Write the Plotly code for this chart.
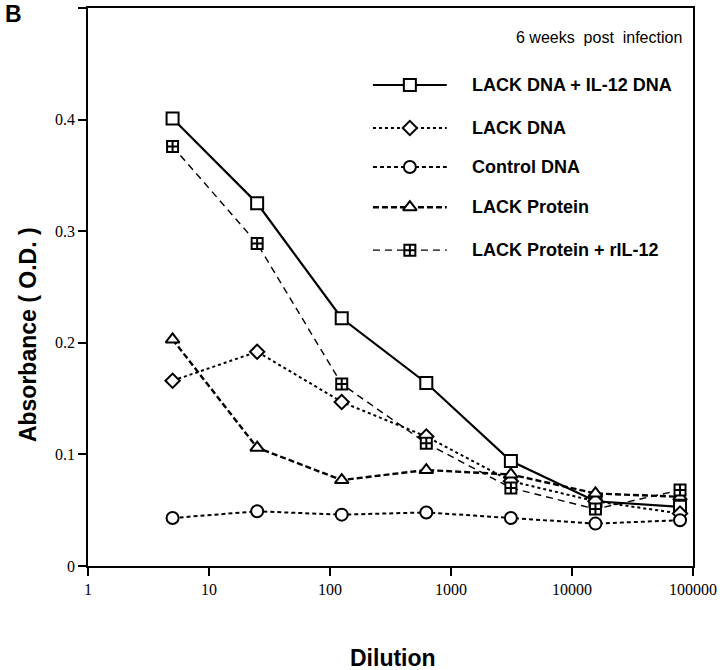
import plotly.graph_objects as go

dilution = [5, 25, 125, 625, 3125, 15625, 78125]
series_names = ["LACK DNA + IL-12 DNA", "LACK DNA", "Control DNA", "LACK Protein", "LACK Protein + rIL-12"]
lack_il12_dna = [0.401, 0.325, 0.222, 0.164, 0.094, 0.058, 0.053]
lack_dna = [0.166, 0.192, 0.147, 0.116, 0.076, 0.058, 0.047]
control_dna = [0.043, 0.049, 0.046, 0.048, 0.043, 0.038, 0.041]
lack_protein = [0.203, 0.106, 0.077, 0.086, 0.082, 0.065, 0.062]
lack_protein_ril12 = [0.376, 0.289, 0.163, 0.110, 0.070, 0.051, 0.068]
x_ticks = [1, 10, 100, 1000, 10000, 100000]
x_ticklabels = ["1", "10", "100", "1000", "10000", "100000"]
y_ticks = [0, 0.1, 0.2, 0.3, 0.4, 0.5]
y_ticklabels = ["0", "0.1", "0.2", "0.3", "0.4", "0.5"]

values = [lack_il12_dna, lack_dna, control_dna, lack_protein, lack_protein_ril12]
styles = [
    dict(dash="solid", width=2.2, symbol="square", size=12),
    dict(dash="dot", width=2, symbol="diamond", size=11),
    dict(dash="4px,3px", width=2, symbol="circle", size=12),
    dict(dash="6px,3px", width=2.4, symbol="triangle-up", size=12),
    dict(dash="7px,5px", width=1.4, symbol="square-cross", size=11),
]

fig = go.Figure()
for name, vals, st in zip(series_names, values, styles):
    fig.add_trace(go.Scatter(
        x=dilution, y=vals, mode="lines+markers", name=name, showlegend=False,
        line=dict(color="black", width=st["width"], dash=st["dash"]),
        marker=dict(symbol=st["symbol"], size=st["size"], color="white",
                    line=dict(color="black", width=2)),
    ))

# custom legend (overlay axes in plot-fraction units)
leg_y = [0.862, 0.785, 0.715, 0.643, 0.566]
for name, st, yy in zip(series_names, styles, leg_y):
    fig.add_trace(go.Scatter(
        x=[0.471, 0.593], y=[yy, yy], mode="lines", showlegend=False,
        xaxis="x2", yaxis="y2", hoverinfo="skip",
        line=dict(color="black", width=st["width"], dash=st["dash"]),
    ))
    fig.add_trace(go.Scatter(
        x=[0.532], y=[yy], mode="markers", showlegend=False,
        xaxis="x2", yaxis="y2", hoverinfo="skip",
        marker=dict(symbol=st["symbol"], size=st["size"], color="white",
                    line=dict(color="black", width=2)),
    ))
    fig.add_annotation(x=0.631, y=yy, xref="paper", yref="paper", text=name,
                       showarrow=False, xanchor="left", yanchor="middle",
                       font=dict(family="Liberation Sans, Arial", size=18, color="black",
                                 weight="bold"))

fig.add_annotation(x=0.985, y=0.948, xref="paper", yref="paper",
                   text="6 weeks&nbsp; post&nbsp; infection", showarrow=False,
                   xanchor="right", yanchor="middle",
                   font=dict(family="Liberation Sans, Arial", size=16, color="black"))

fig.add_annotation(x=-0.14, y=1.016, xref="paper", yref="paper", text="<b>B</b>",
                   showarrow=False, xanchor="left", yanchor="top",
                   font=dict(family="Liberation Sans, Arial", size=23, color="black"))

fig.add_annotation(x=0.504, y=-0.165, xref="paper", yref="paper", text="<b>Dilution</b>",
                   showarrow=False, xanchor="center", yanchor="middle",
                   font=dict(family="Liberation Sans, Arial", size=23, color="black"))

fig.add_annotation(x=-0.099, y=0.414, xref="paper", yref="paper",
                   text="<b>Absorbance ( O.D. )</b>", textangle=-90,
                   showarrow=False, xanchor="center", yanchor="middle",
                   font=dict(family="Liberation Sans, Arial", size=23, color="black"))

fig.update_layout(
    width=720, height=670,
    margin=dict(l=88, r=27, t=8, b=104),
    paper_bgcolor="white", plot_bgcolor="white",
    font=dict(family="Liberation Serif, Times New Roman", color="black"),
    xaxis=dict(
        type="log", range=[0, 5], tickvals=x_ticks, ticktext=x_ticklabels,
        ticks="outside", ticklen=8, tickwidth=1.5, tickcolor="black",
        showline=True, linecolor="black", linewidth=1.8, mirror=True,
        showgrid=False, zeroline=False, automargin=False,
        tickfont=dict(family="Liberation Serif, Times New Roman", size=16, color="black"),
    ),
    yaxis=dict(
        range=[0, 0.5], tickvals=y_ticks, ticktext=y_ticklabels,
        ticks="outside", ticklen=8, tickwidth=1.5, tickcolor="black",
        showline=True, linecolor="black", linewidth=1.8, mirror=True,
        showgrid=False, zeroline=False, automargin=False,
        tickfont=dict(family="Liberation Serif, Times New Roman", size=16, color="black"),
    ),
    xaxis2=dict(overlaying="x", range=[0, 1], visible=False, fixedrange=True),
    yaxis2=dict(overlaying="y", range=[0, 1], visible=False, fixedrange=True),
)

fig.write_html("out.html", config={"displayModeBar": False},
               post_script="document.body.style.margin='0';")
